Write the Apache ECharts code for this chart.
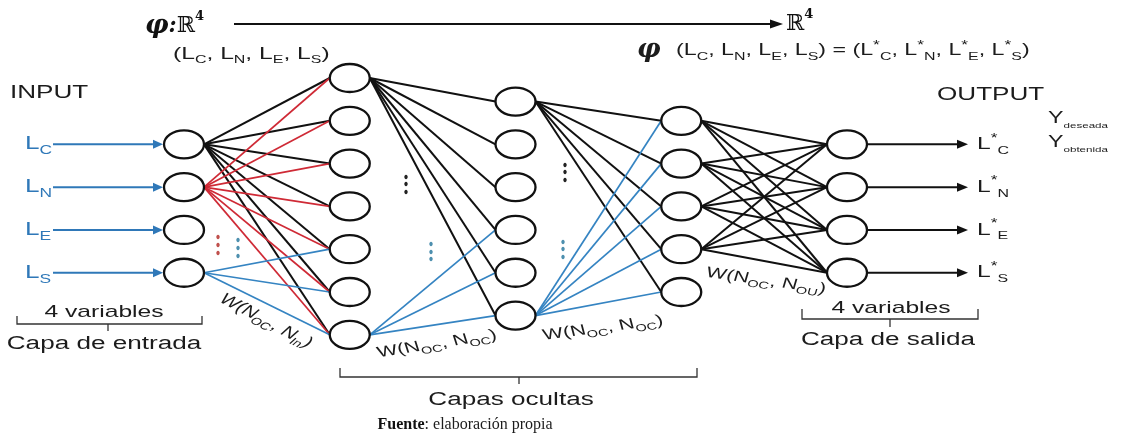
<!DOCTYPE html>
<html><head><meta charset="utf-8">
<script src="https://cdn.jsdelivr.net/npm/echarts/dist/echarts.min.js"></script>
<style>html,body{margin:0;padding:0;background:#fff}#c{width:1140px;height:441px}</style>
</head><body><div id="c"></div>
<script>
// ---- network data (layer -> node positions in node-slot units) ----
const inputY   = [1.55, 2.55, 3.55, 4.55];
const hidden1Y = [0, 1, 2, 3, 4, 5, 6];
const hidden2Y = [0.55, 1.55, 2.55, 3.55, 4.55, 5.55];
const hidden3Y = [1, 2, 3, 4, 5];
const outputY  = [1.55, 2.55, 3.55, 4.55];
const varSubs  = ['C', 'N', 'E', 'S'];
// fans: [layer, node, [target nodes in next layer]]
const blackFans = [
  [0, 0, [0, 1, 2, 3, 4, 5, 6]],
  [1, 0, [0, 1, 2, 3, 4, 5]],
  [2, 0, [0, 1, 2, 3, 4]],
  [3, 0, [0, 1, 2, 3]], [3, 1, [0, 1, 2, 3]], [3, 2, [0, 1, 2, 3]], [3, 3, [0, 1, 2, 3]]
];
const redFans  = [[0, 1, [0, 1, 2, 3, 4, 5, 6]]];
const blueFans = [[0, 3, [4, 5, 6]], [1, 6, [3, 4, 5]], [2, 5, [0, 1, 2, 3, 4]]];

const layers = [inputY, hidden1Y, hidden2Y, hidden3Y, outputY];
function buildEdges(fans) {
  const out = [];
  fans.forEach(([l, n, ts]) => ts.forEach(t => out.push([l, layers[l][n], l + 1, layers[l + 1][t]])));
  return out;
}
const nodes = [];
layers.forEach((ys, l) => ys.forEach(y => nodes.push([l, y])));

// ---- styles ----
const RX = 20, RY = 14, SX = 1.45;
const SANS = '"Liberation Sans", Arial, sans-serif';
const SERIF = '"DejaVu Serif", "Liberation Serif", serif';
const TXT = '#1c1c1c', BLUE = '#2f78b8', RED = '#cf2a36', EDGEBLUE = '#3584c2';

function rich(size, color) {
  return {
    s: { fontSize: Math.round(size * 0.66), lineHeight: Math.round(size * 0.66) + 1, verticalAlign: 'bottom', fontFamily: SANS, fill: color },
    p: { fontSize: Math.round(size * 0.72), lineHeight: Math.round(size * 0.72), verticalAlign: 'top', fontFamily: SANS, fill: color }
  };
}
function stext(x, y, text, size, opts) {
  opts = opts || {};
  const color = opts.color || TXT;
  return {
    type: 'text', x: x, y: y, scaleX: opts.sx === undefined ? SX : opts.sx, silent: true,
    style: {
      text: text, fontSize: size, fontFamily: opts.family || SANS, fontWeight: opts.weight || 'normal',
      fontStyle: opts.style || 'normal', fill: color, lineHeight: opts.lh || Math.round(size * 1.45),
      align: opts.align || 'left', verticalAlign: 'middle', rich: opts.rich || rich(size, color)
    }
  };
}
function rotLabel(x, y, text, deg) {
  return { type: 'group', x: x, y: y, scaleX: SX, silent: true, children: [{
    type: 'text', rotation: deg * Math.PI / 180,
    style: { text: text, fontSize: 15, fontFamily: SANS, fill: TXT, lineHeight: 20, align: 'center', verticalAlign: 'middle', rich: rich(15, TXT) }
  }]};
}
function bracket(x1, x2, y, h) {
  return { type: 'polyline', silent: true, shape: { points: [[x1, y - h], [x1, y], [x2, y], [x2, y - h]] },
    style: { stroke: '#333', lineWidth: 1.3, fill: null } };
}
function stem(xc, y, d) {
  return { type: 'line', silent: true, shape: { x1: xc, y1: y, x2: xc, y2: y + d }, style: { stroke: '#333', lineWidth: 1.3 } };
}
function dots(x, ys, color) {
  return ys.map(y => ({ type: 'ellipse', silent: true, shape: { cx: x, cy: y, rx: 1.7, ry: 2.2 }, style: { fill: color } }));
}

function edgeSeries(data, color, width) {
  return {
    type: 'custom', coordinateSystem: 'cartesian2d', data: data, silent: true, animation: false,
    encode: { x: [0, 2], y: [1, 3] },
    renderItem: function (p, api) {
      const a = api.coord([api.value(0), api.value(1)]);
      const b = api.coord([api.value(2), api.value(3)]);
      return { type: 'line', shape: { x1: a[0] + RX, y1: a[1], x2: b[0] - RX, y2: b[1] }, style: { stroke: color, lineWidth: width } };
    }
  };
}

const chart = echarts.init(document.getElementById('c'), null, { renderer: 'canvas' });
const option = {
  backgroundColor: '#fff',
  animation: false,
  grid: { left: 184, right: 293, top: 78, bottom: 106.2 },
  xAxis: { type: 'value', min: 0, max: 4, show: false },
  yAxis: { type: 'value', min: 0, max: 6, inverse: true, show: false },
  series: [
    edgeSeries(buildEdges(blackFans), '#111', 2),
    edgeSeries(buildEdges(redFans), RED, 1.7),
    edgeSeries(buildEdges(blueFans), EDGEBLUE, 1.7),
    {
      type: 'custom', coordinateSystem: 'cartesian2d', data: nodes, silent: true, animation: false,
      renderItem: function (p, api) {
        const c = api.coord([api.value(0), api.value(1)]);
        return { type: 'ellipse', shape: { cx: c[0], cy: c[1], rx: RX, ry: RY }, style: { fill: '#fff', stroke: '#111', lineWidth: 2.3 } };
      }
    },
    {
      type: 'custom', coordinateSystem: 'cartesian2d', data: inputY.map((y, i) => [0, y, i]), silent: true, animation: false,
      renderItem: function (p, api) {
        const c = api.coord([api.value(0), api.value(1)]);
        const i = api.value(2);
        return { type: 'group', children: [
          { type: 'line', shape: { x1: c[0] - 131, y1: c[1], x2: c[0] - RX - 8, y2: c[1] }, style: { stroke: BLUE, lineWidth: 2 } },
          { type: 'polygon', shape: { points: [[c[0] - RX - 11, c[1] - 4.5], [c[0] - RX - 1, c[1]], [c[0] - RX - 11, c[1] + 4.5]] }, style: { fill: BLUE } },
          stext(c[0] - 159, c[1], 'L{s|' + varSubs[i] + '}', 18, { color: BLUE, lh: 25 })
        ]};
      }
    },
    {
      type: 'custom', coordinateSystem: 'cartesian2d', data: outputY.map((y, i) => [4, y, i]), silent: true, animation: false,
      renderItem: function (p, api) {
        const c = api.coord([api.value(0), api.value(1)]);
        const i = api.value(2);
        return { type: 'group', children: [
          { type: 'line', shape: { x1: c[0] + RX + 1, y1: c[1], x2: c[0] + 112, y2: c[1] }, style: { stroke: '#111', lineWidth: 2 } },
          { type: 'polygon', shape: { points: [[c[0] + 110, c[1] - 4.5], [c[0] + 121, c[1]], [c[0] + 110, c[1] + 4.5]] }, style: { fill: '#111' } },
          stext(c[0] + 130, c[1], 'L{p|*}{s|' + varSubs[i] + '}', 17, { lh: 24 })
        ]};
      }
    }
  ],
  graphic: [
    // top mapping
    stext(145, 26, '{phi|φ}{c|:}{R|ℝ}{sup|4}', 22, { sx: 1, family: SERIF, rich: {
      phi: { fontSize: 26, fontFamily: SERIF, fontWeight: 'bold', fontStyle: 'italic', fill: '#111' },
      c: { fontSize: 22, fontFamily: SERIF, fontWeight: 'bold', fontStyle: 'italic', fill: '#111' },
      R: { fontSize: 22, fontFamily: SERIF, fill: '#111' },
      sup: { fontSize: 13, fontFamily: SERIF, fontWeight: 'bold', fill: '#111', verticalAlign: 'top', lineHeight: 13 } } }),
    { type: 'line', silent: true, shape: { x1: 234, y1: 24, x2: 773, y2: 24 }, style: { stroke: '#111', lineWidth: 2 } },
    { type: 'polygon', silent: true, shape: { points: [[770, 19.5], [783, 24], [770, 28.5]] }, style: { fill: '#111' } },
    stext(786, 24, '{R|ℝ}{sup|4}', 22, { sx: 1, family: SERIF, rich: {
      R: { fontSize: 22, fontFamily: SERIF, fill: '#111' },
      sup: { fontSize: 13, fontFamily: SERIF, fontWeight: 'bold', fill: '#111', verticalAlign: 'top', lineHeight: 13 } } }),
    stext(173, 54, '(L{s|C}, L{s|N}, L{s|E}, L{s|S})', 17, { lh: 22 }),
    stext(637, 50, 'φ', 26, { sx: 1, family: SERIF, weight: 'bold', style: 'italic' }),
    stext(676, 51, '(L{s|C}, L{s|N}, L{s|E}, L{s|S}) = (L{p|*}{s|C}, L{p|*}{s|N}, L{p|*}{s|E}, L{p|*}{s|S})', 16, { lh: 22 }),
    // headings
    stext(10, 93, 'INPUT', 18),
    stext(937, 95, 'OUTPUT', 18),
    stext(1048, 119, 'Y{d|deseada}', 16, { lh: 22, rich: { d: { fontSize: 8, lineHeight: 9, verticalAlign: 'bottom', fontFamily: SANS, fill: TXT } } }),
    stext(1048, 143, 'Y{d|obtenida}', 16, { lh: 22, rich: { d: { fontSize: 8, lineHeight: 9, verticalAlign: 'bottom', fontFamily: SANS, fill: TXT } } }),
    // ellipsis dots
    ...dots(218, [237, 245, 253], '#c0504d'),
    ...dots(238, [240, 248, 256], '#4d8fae'),
    ...dots(406, [177, 184, 192], '#222'),
    ...dots(431, [244, 252, 259], '#4d8fae'),
    ...dots(565, [165, 172, 180], '#222'),
    ...dots(563, [242, 249, 257], '#4d8fae'),
    // weight labels
    rotLabel(266, 321, 'W(N{s|OC}, N{s|In})', -37.6),
    rotLabel(437, 344, 'W(N{s|OC}, N{s|OC})', 12.5),
    rotLabel(603, 328, 'W(N{s|OC}, N{s|OC})', 10.4),
    rotLabel(766, 281, 'W(N{s|OC}, N{s|OU})', -11.6),
    // input bracket
    stext(104, 312, '4 variables', 17, { align: 'center' }),
    bracket(17, 202, 324, 8), stem(108, 324, 7),
    stext(104, 344, 'Capa de entrada', 18, { align: 'center' }),
    // hidden bracket
    bracket(340, 697, 377, 9), stem(519, 377, 7),
    stext(511, 400, 'Capas ocultas', 18, { align: 'center' }),
    // output bracket
    stext(891, 308, '4 variables', 17, { align: 'center' }),
    bracket(802, 978, 319, 10), stem(890, 319, 8),
    stext(888, 340, 'Capa de salida', 18, { align: 'center' }),
    // source
    stext(465, 425, '{b|Fuente}: elaboración propia', 16, { sx: 1, family: '"Liberation Serif", "Times New Roman", serif', align: 'center', rich: {
      b: { fontSize: 16, fontFamily: '"Liberation Serif", "Times New Roman", serif', fontWeight: 'bold', fill: '#111' } } })
  ]
};
chart.setOption(option);
</script>
</body></html>
